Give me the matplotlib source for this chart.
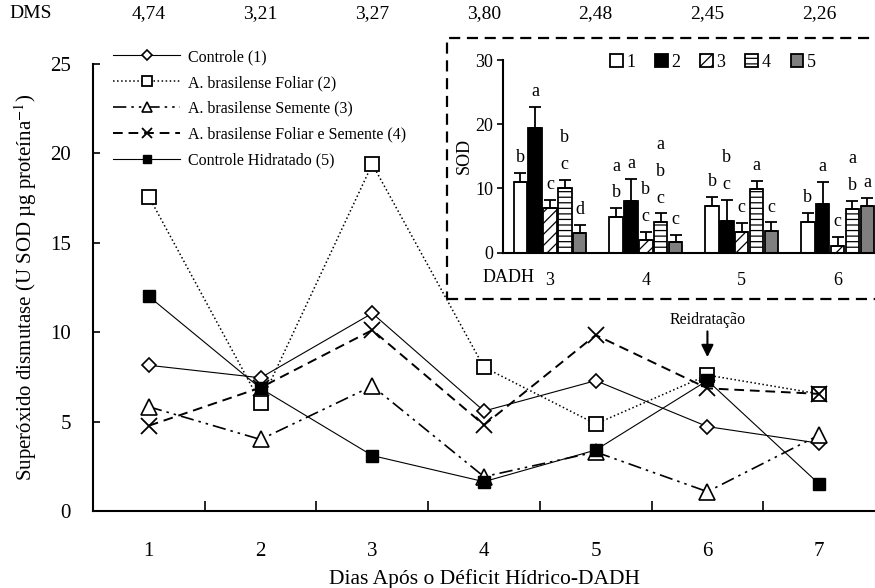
import matplotlib
matplotlib.use("Agg")
import matplotlib.pyplot as plt
from matplotlib.patches import Rectangle
from matplotlib.transforms import blended_transform_factory

plt.rcParams["font.family"] = ["Liberation Serif", "DejaVu Serif"]
plt.rcParams["mathtext.fontset"] = "stix"
plt.rcParams["hatch.linewidth"] = 0.9

# SOD activity per treatment, days 1..7 after water deficit
days = [1, 2, 3, 4, 5, 6, 7]
dms = ["4,74", "3,21", "3,27", "3,80", "2,48", "2,45", "2,26"]

controle = [8.15, 7.45, 11.06, 5.59, 7.29, 4.72, 3.79]
foliar = [17.58, 6.06, 19.4, 8.04, 4.87, 7.6, 6.55]
semente = [5.83, 4.0, 6.99, 1.92, 3.3, 1.08, 4.25]
foliar_semente = [4.77, 6.9, 10.12, 4.81, 9.84, 6.86, 6.55]
hidratado = [12.0, 6.86, 3.1, 1.64, 3.41, 7.3, 1.51]

labels = [
    "Controle (1)",
    "A. brasilense Foliar (2)",
    "A. brasilense Semente (3)",
    "A. brasilense Foliar e Semente (4)",
    "Controle Hidratado (5)",
]

# inset: days 3..6, standard errors and Tukey letters per treatment
inset_days = [3, 4, 5, 6]
err_1 = [1.4, 1.35, 1.4, 1.4]
err_2 = [3.3, 3.4, 3.4, 3.4]
err_3 = [1.2, 1.35, 1.4, 1.35]
err_4 = [1.25, 1.3, 1.3, 1.25]
err_5 = [1.15, 1.15, 1.3, 1.2]
letters_1 = ["b", "ab", "b", "b"]
letters_2 = ["a", "a", "bc", "a"]
letters_3 = ["c", "bc", "c", "c"]
letters_4 = ["bc", "abc", "a", "ab"]
letters_5 = ["d", "c", "c", "a"]

W, H = 875, 588
fig = plt.figure(figsize=(W / 100, H / 100), dpi=100)

ax = fig.add_axes([93 / W, 1 - 511 / H, (875 - 93) / W, (511 - 64) / H])
ax.plot(days, controle, "-", color="black", lw=0.8, marker="D", ms=7.5,
        mfc="white", mec="black", mew=1.2, label=labels[0])
ax.plot(days, foliar, ":", color="black", lw=1.1, marker="s", ms=10,
        mfc="white", mec="black", mew=1.3, label=labels[1])
ax.plot(days, semente, color="black", lw=1.2, dashes=[8, 3, 1.5, 3, 1.5, 3],
        marker="^", ms=11, mfc="white", mec="black", mew=1.2, label=labels[2])
ax.plot(days, foliar_semente, "--", color="black", lw=1.4, dashes=[5, 3],
        marker="x", ms=11, mec="black", mew=1.3, label=labels[3])
ax.plot(days, hidratado, "-", color="black", lw=0.8, marker="s", ms=9,
        mfc="black", mec="black", label=labels[4])

ax.set_xlim(0.5, 7.5)
ax.set_ylim(0, 25)
ax.set_yticks([0, 5, 10, 15, 20, 25])
ax.set_xticks(days)
ax.set_xticks([1.5, 2.5, 3.5, 4.5, 5.5, 6.5], minor=True)
ax.tick_params(axis="x", which="major", length=0, pad=22, labelsize=15)
ax.tick_params(axis="x", which="minor", length=7, width=1.2, direction="in")
ax.tick_params(axis="y", length=5, width=1.2, direction="in", pad=16, labelsize=15)
for side in ["top", "right"]:
    ax.spines[side].set_visible(False)
for side in ["left", "bottom"]:
    ax.spines[side].set_linewidth(1.5)
ax.set_xlabel("Dias Após o Déficit Hídrico-DADH", fontsize=15.5, labelpad=6)
ax.set_ylabel("Superóxido dismutase (U SOD µg proteína$^{-1}$)", fontsize=15, labelpad=8)

ax.legend(loc="upper left", bbox_to_anchor=(113 / W, 1 - 49 / H),
          bbox_transform=fig.transFigure, frameon=False, fontsize=11.5,
          handlelength=4.2, handletextpad=0.5, labelspacing=0.62,
          markerscale=0.65, borderaxespad=0, borderpad=0)

ax.annotate("", xy=(6, 8.45), xytext=(6, 10.2),
            arrowprops=dict(arrowstyle="-|>", color="black", lw=1.5,
                            mutation_scale=18))
ax.text(6, 10.7, "Reidratação", ha="center", va="center", fontsize=11.5)

# DMS row above the plot
tr = blended_transform_factory(ax.transData, fig.transFigure)
fig.text(31 / W, 1 - 14 / H, "DMS", ha="center", va="center", fontsize=14)
for d, v in zip(days, dms):
    ax.text(d, 1 - 14 / H, v, transform=tr, ha="center", va="center", fontsize=14)

# dashed frame around the inset
fig.patches.append(Rectangle((447 / W, 1 - 299 / H), 0.6, (299 - 38) / H,
                             transform=fig.transFigure, fill=True, fc="white",
                             ec="black", lw=1.6, ls=(0, (5, 3)), zorder=5))

ins = fig.add_axes([503 / W, 1 - 252.7 / H, (875 - 503) / W, (252.7 - 60) / H],
                   zorder=6)
ins.patch.set_alpha(0)
series = [controle, foliar, semente, foliar_semente, hidratado]
errs = [err_1, err_2, err_3, err_4, err_5]
letters = [letters_1, letters_2, letters_3, letters_4, letters_5]
fills = ["white", "black", "white", "white", "#7f7f7f"]
hatches = [None, None, "///", "---", None]
width = 0.14
step = 0.155
for i in range(5):
    means = [series[i][d - 1] for d in inset_days]
    xs = [g + (i - 2) * step for g in range(len(inset_days))]
    ins.bar(xs, means, width=width, color=fills[i], edgecolor="black",
            linewidth=1.3, hatch=hatches[i], label=str(i + 1))
    ins.errorbar(xs, means, yerr=[[0] * len(means), errs[i]], fmt="none",
                 ecolor="black", elinewidth=1.3, capsize=4, capthick=1.3)
    for x, m, e, lt in zip(xs, means, errs[i], letters[i]):
        for k, ch in enumerate(reversed(lt)):
            ins.text(x, m + e + 2.4 + 4.15 * k, ch, ha="center", va="center",
                     fontsize=13)

ins.set_xlim(-0.49, 3.39)
ins.set_ylim(0, 30)
ins.set_yticks([0, 10, 20, 30])
ins.set_xticks(range(len(inset_days)))
ins.set_xticklabels([str(d) for d in inset_days])
ins.tick_params(axis="x", length=0, pad=14, labelsize=13)
ins.tick_params(axis="y", length=4, width=1.2, labelsize=13, pad=3)
for side in ["top", "right"]:
    ins.spines[side].set_visible(False)
for side in ["left", "bottom"]:
    ins.spines[side].set_linewidth(1.5)
ins.set_ylabel("SOD", fontsize=13, labelpad=2)
ins.text(0.015, -0.13, "DADH", transform=ins.transAxes, ha="center", va="center",
         fontsize=13)
ins.legend(loc="upper left", bbox_to_anchor=(610 / W, 1 - 54 / H),
           bbox_transform=fig.transFigure, ncol=5, frameon=False, fontsize=13,
           handlelength=0.7, handleheight=0.7, handletextpad=0.2,
           columnspacing=1.1, borderaxespad=0, borderpad=0)

fig.savefig("out.png", dpi=100)
